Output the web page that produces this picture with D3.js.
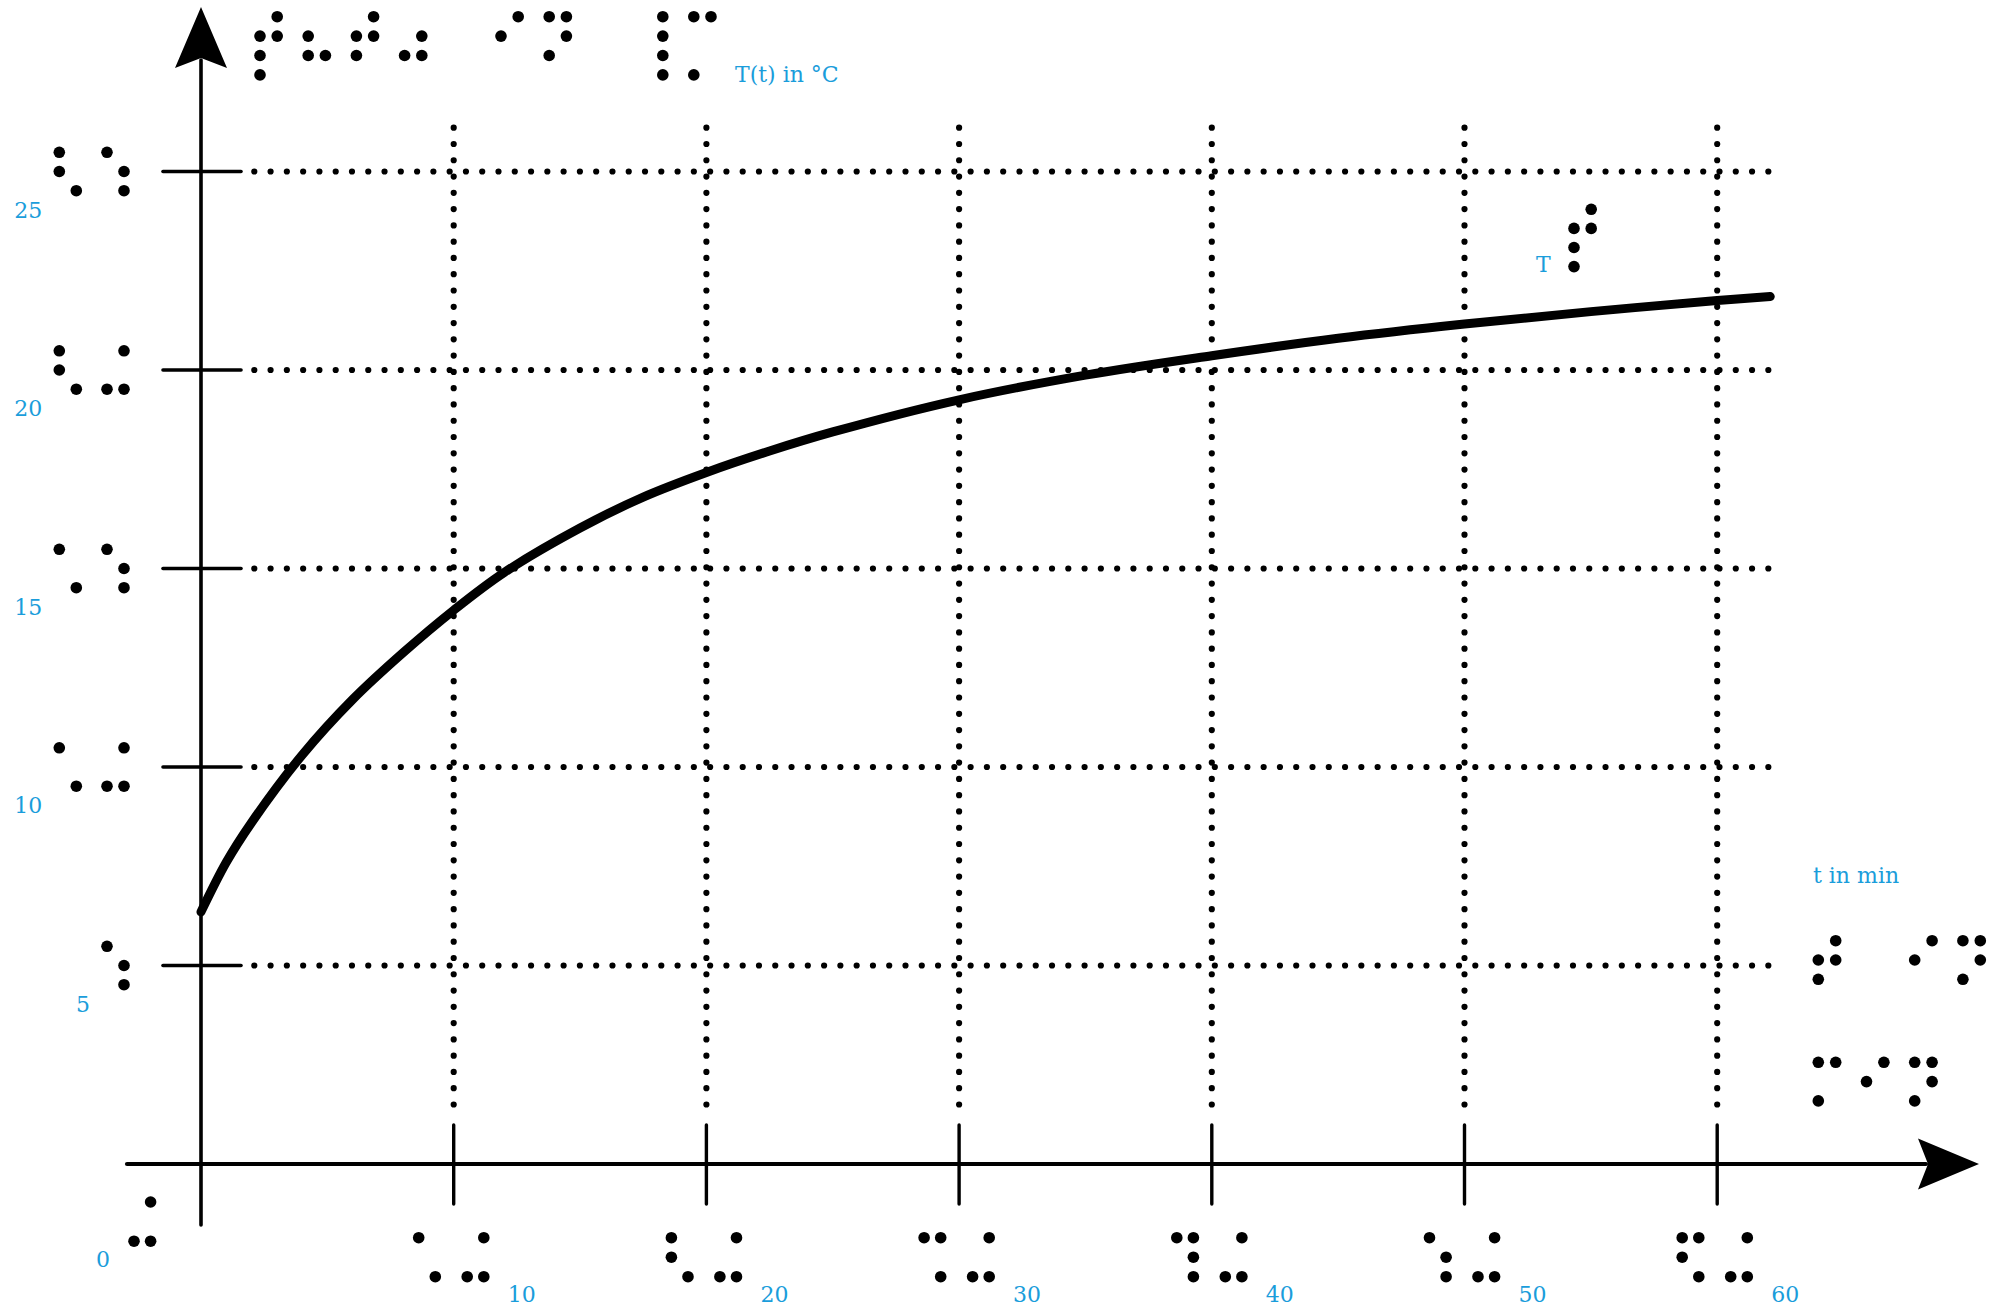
<!DOCTYPE html>
<html>
<head>
<meta charset="utf-8">
<script src="https://cdn.jsdelivr.net/npm/d3@7"></script>
<style>
  html, body { margin: 0; padding: 0; background: #ffffff; }
  svg { display: block; }
  .lbl { font-family: "DejaVu Serif", "Liberation Serif", serif; font-size: 22px; fill: #1a9ddb; }
</style>
</head>
<body>
<svg id="chart" width="2000" height="1310"></svg>
<script>
// ---------------- data ----------------
const timeMin = [0, 1, 2, 4, 6, 8, 10, 12, 15, 17.5, 20, 22.5, 25, 30, 35, 40, 45, 50, 55, 60, 62.1];
const tempC   = [6.35, 7.6, 8.6, 10.3, 11.7, 12.88, 13.95, 14.9, 16.02, 16.8, 17.42, 17.96, 18.44, 19.25, 19.87, 20.36, 20.8, 21.16, 21.47, 21.75, 21.85];

const xTicks = [0, 10, 20, 30, 40, 50, 60];
const xTickLabels = ["0", "10", "20", "30", "40", "50", "60"];
const xTickBraille = ["\u282C", "\u2821\u282C", "\u2823\u282C", "\u2829\u282C", "\u2839\u282C", "\u2831\u282C", "\u282B\u282C"];

const yTicks = [5, 10, 15, 20, 25];
const yTickLabels = ["5", "10", "15", "20", "25"];
const yTickBraille = ["\u2831", "\u2821\u282C", "\u2821\u2831", "\u2823\u282C", "\u2823\u2831"];

const yTitle = "T(t) in °C";
const yTitleBraille = "\u285E\u2826\u281E\u2834\u2800\u280A\u281D\u2800\u28B8\u2849";
const xTitle = "t in min";
const xTitleBraille = ["\u281E\u2800\u280A\u281D", "\u280D\u280A\u281D"];
const seriesName = "T";
const seriesBraille = "\u285E";

// ---------------- layout ----------------
const svg = d3.select("#chart");
svg.append("rect").attr("width", 2000).attr("height", 1310).attr("fill", "#fff");

const x = d3.scaleLinear().domain([0, 60]).range([201, 1717.2]);
const y = d3.scaleLinear().domain([0, 25]).range([1164, 171.5]);

const DOT_R = 5.8, COL = 17.2, ROW = 19.4, ADV = 48.2;

// draw a braille string (unicode braille) as raised dots
function braille(g, str, x0, y0, opts = {}) {
  const col = opts.col || COL, row = opts.row || ROW, adv = opts.adv || ADV;
  const grp = g.append("g").attr("aria-label", str);
  const dots = [];
  const map = [[0,0],[0,1],[0,2],[1,0],[1,1],[1,2],[0,3],[1,3]];
  Array.from(str).forEach((ch, i) => {
    const code = ch.codePointAt(0) - 0x2800;
    if (code < 0 || code > 255) return;
    map.forEach((p, b) => {
      if (code & (1 << b)) dots.push({ cx: x0 + i * adv + p[0] * col, cy: y0 + p[1] * row });
    });
  });
  grp.selectAll("circle").data(dots).join("circle")
    .attr("cx", d => d.cx).attr("cy", d => d.cy).attr("r", DOT_R).attr("fill", "#000");
  return grp;
}

// ---------------- grid (dotted) ----------------
const grid = svg.append("g");
grid.selectAll("line.vg").data(xTicks.filter(d => d > 0)).join("line")
  .attr("x1", d => x(d)).attr("x2", d => x(d))
  .attr("y1", 127.7).attr("y2", 1105)
  .attr("stroke", "#000").attr("stroke-width", 6.2)
  .attr("stroke-linecap", "round").attr("stroke-dasharray", "0 16.28");
grid.selectAll("line.hg").data(yTicks).join("line")
  .attr("x1", 254.3).attr("x2", 1769)
  .attr("y1", d => y(d)).attr("y2", d => y(d))
  .attr("stroke", "#000").attr("stroke-width", 6.2)
  .attr("stroke-linecap", "round").attr("stroke-dasharray", "0 16.28");

// ---------------- axes ----------------
const axes = svg.append("g").attr("stroke", "#000");
axes.append("line").attr("x1", x(0)).attr("x2", x(0)).attr("y1", 1225).attr("y2", 60)
  .attr("stroke-width", 3.6).attr("stroke-linecap", "round");
axes.append("path").attr("d", `M${x(0)},7 L${x(0)+26},68 L${x(0)},58 L${x(0)-26},68 Z`)
  .attr("fill", "#000").attr("stroke", "none");
axes.append("line").attr("x1", 127).attr("x2", 1926).attr("y1", y(0)).attr("y2", y(0))
  .attr("stroke-width", 4.2).attr("stroke-linecap", "round");
axes.append("path").attr("d", `M1979,${y(0)} L1918,${y(0)-25.5} L1928,${y(0)} L1918,${y(0)+25.5} Z`)
  .attr("fill", "#000").attr("stroke", "none");

axes.selectAll("line.xt").data(xTicks.filter(d => d > 0)).join("line")
  .attr("x1", d => x(d)).attr("x2", d => x(d)).attr("y1", 1125).attr("y2", 1204)
  .attr("stroke-width", 3.4).attr("stroke-linecap", "round");
axes.selectAll("line.yt").data(yTicks).join("line")
  .attr("x1", 163).attr("x2", 241).attr("y1", d => y(d)).attr("y2", d => y(d))
  .attr("stroke-width", 3.6).attr("stroke-linecap", "round");

// ---------------- curve ----------------
const pts = timeMin.map((t, i) => [t, tempC[i]]);
svg.append("path").datum(pts)
  .attr("d", d3.line().x(d => x(d[0])).y(d => y(d[1])).curve(d3.curveCatmullRom.alpha(0.5)))
  .attr("fill", "none").attr("stroke", "#000").attr("stroke-width", 9)
  .attr("stroke-linecap", "round").attr("stroke-linejoin", "round");

// ---------------- tick labels ----------------
const lab = svg.append("g");
yTicks.forEach((v, i) => {
  const br = yTickBraille[i];
  const n = Array.from(br).length;
  const start = 107 - (n - 1) * 47.7;
  braille(lab, br, start, y(v) - 19.2, { col: 17, row: 19.2, adv: 47.7 });
  lab.append("text").attr("class", "lbl").attr("text-anchor", "end")
    .attr("x", start - 17).attr("y", y(v) + 46).text(yTickLabels[i]);
});
xTicks.forEach((v, i) => {
  if (v === 0) {
    braille(lab, xTickBraille[i], 134, 1202, { col: 16.6, row: 19.6, adv: 48.5 });
    lab.append("text").attr("class", "lbl").attr("x", 96).attr("y", 1267).text(xTickLabels[i]);
  } else {
    braille(lab, xTickBraille[i], x(v) - 35, 1237.7, { col: 16.6, row: 19.5, adv: 48.5 });
    lab.append("text").attr("class", "lbl").attr("x", x(v) + 54).attr("y", 1302).text(xTickLabels[i]);
  }
});

// ---------------- titles ----------------
braille(lab, yTitleBraille, 260, 16.7);
lab.append("text").attr("class", "lbl").attr("x", 735).attr("y", 82).text(yTitle);

braille(lab, seriesBraille, 1574, 209.3, { row: 19.1 });
lab.append("text").attr("class", "lbl").attr("x", 1536).attr("y", 272).text(seriesName);

xTitleBraille.forEach((line, i) => braille(lab, line, 1818.3, 940.7 + i * 121.6, { col: 17.4, row: 19.3 }));
lab.append("text").attr("class", "lbl").attr("x", 1813).attr("y", 883).text(xTitle);
</script>
</body>
</html>
